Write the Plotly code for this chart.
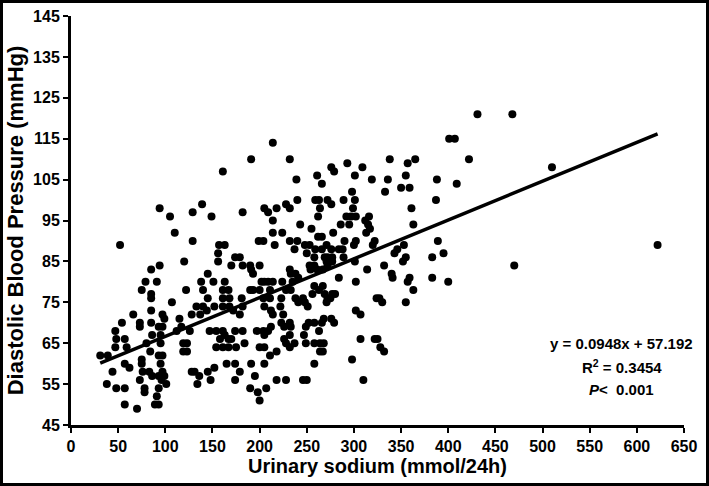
import plotly.graph_objects as go

# urinary sodium (mmol/24h) and diastolic BP (mmHg), grouped by area
na_a = [31, 39, 38, 44, 48, 57, 57, 70, 52, 54, 47, 48, 47, 57, 59, 57, 62, 66, 73, 73]
bp_a = [62, 62, 55, 58, 54, 54, 50, 49, 89, 70, 68, 66, 64, 66, 64, 60, 59, 72, 70, 69]
na_b = [75, 79, 85, 94, 91, 85, 85, 85, 85, 86, 80, 84, 75, 75, 76, 73, 78, 78, 83, 86]
bp_b = [78, 80, 83, 84, 80, 77, 76, 73, 70, 67, 65, 63, 61, 60, 58, 56, 54, 53, 58, 57]
na_c = [91, 89, 93, 93, 93, 96, 99, 101, 97, 95, 93, 95, 93, 97, 99, 97, 97, 95, 107, 94]
bp_c = [52, 50, 50, 54, 57, 56, 57, 55, 58, 60, 62, 67, 69, 72, 71, 69, 62, 65, 75, 98]
na_d = [105, 110, 129, 139, 149, 129, 120, 122, 115, 112, 117, 119, 123, 119, 123, 128, 131, 136, 134]
bp_d = [96, 92, 97, 99, 96, 90, 85, 78, 71, 68, 69, 65, 65, 63, 63, 58, 58, 57, 55]
na_e = [145, 148, 152, 126, 128, 133, 137, 140, 144, 145, 140, 138, 145, 151, 163, 156, 156, 157, 163, 161]
bp_e = [58, 56, 59, 68, 72, 74, 72, 74, 73, 76, 78, 80, 82, 80, 80, 85, 87, 89, 89, 78]
na_f = [161, 167, 168, 172, 168, 161, 152, 147, 154, 161, 158, 163, 167, 170, 167, 161, 154, 174, 175, 165]
bp_f = [76, 78, 76, 73, 74, 74, 74, 68, 68, 68, 66, 67, 66, 66, 64, 64, 64, 68, 64, 60]
na_g = [174, 179, 174, 170, 179, 174, 182, 182, 181, 182, 179, 182, 184, 190, 191, 193, 190, 193, 200, 199]
bp_g = [60, 58, 56, 84, 86, 86, 84, 97, 76, 74, 72, 68, 65, 84, 83, 82, 78, 78, 84, 90]
na_h = [204, 205, 209, 218, 214, 214, 216, 202, 205, 209, 214, 200, 211, 204, 211, 205, 212, 214, 212, 197]
bp_h = [90, 98, 97, 98, 95, 92, 89, 80, 80, 80, 80, 78, 78, 76, 76, 74, 73, 72, 69, 68]
na_i = [204, 209, 205, 200, 205, 211, 191, 205, 195, 190, 198, 200, 207, 218, 218, 161, 191, 214]
bp_i = [68, 68, 67, 64, 64, 62, 60, 60, 57, 54, 53, 51, 54, 56, 63, 107, 110, 114]
na_j = [232, 233, 238, 241, 250, 258, 258, 235, 233, 238, 241, 246, 248, 251, 256, 258, 224, 223, 228, 222]
bp_j = [83, 82, 82, 81, 87, 86, 84, 80, 78, 76, 75, 76, 75, 74, 77, 79, 80, 76, 78, 74]
na_k = [225, 232, 233, 226, 223, 232, 226, 237, 228, 232, 249, 252, 258, 247, 249, 258, 258, 246, 228]
bp_k = [72, 70, 69, 69, 70, 67, 66, 65, 65, 64, 69, 70, 70, 67, 65, 65, 60, 56, 56]
na_l = [284, 302, 314, 332, 340, 341, 346, 355, 359, 357, 363, 355, 383, 395, 383, 324, 327, 330, 302, 307]
bp_l = [81, 80, 83, 84, 82, 81, 88, 86, 81, 80, 78, 75, 86, 87, 81, 76, 76, 75, 73, 72]
na_m = [307, 322, 325, 328, 332, 298, 310, 280, 275, 276, 279, 268, 266, 263, 268, 264, 250, 271]
bp_m = [66, 66, 66, 64, 63, 61, 56, 77, 76, 71, 70, 71, 70, 68, 65, 65, 56, 75]
na_n = [269, 277, 267, 272, 267, 269, 272, 277, 263, 264, 267]
bp_n = [86, 85, 83, 84, 79, 77, 76, 77, 78, 63, 63]
na_o = [261, 266, 276, 279, 293, 301, 309, 319, 338, 336, 333, 357, 365, 355, 350, 359, 361, 363, 388, 387]
bp_o = [106, 104, 108, 107, 109, 106, 108, 105, 110, 105, 102, 109, 110, 106, 103, 103, 98, 94, 105, 100]
na_p = [322, 312, 315, 317, 313, 316, 302, 290, 284, 278, 286, 292, 297, 302, 299, 301, 298, 289, 276, 272]
bp_p = [90, 95, 94, 93, 92, 96, 90, 90, 88, 92, 94, 96, 96, 96, 98, 100, 102, 100, 99, 100]
na_q = [264, 259, 263, 266, 276, 271, 266, 259, 253, 272, 277, 289, 301, 253, 254, 261, 271, 275]
bp_q = [98, 100, 100, 91, 88, 89, 88, 88, 89, 86, 86, 86, 85, 84, 83, 83, 85, 85]
na_r = [232, 239, 224, 228, 232, 240, 232, 240, 243, 255, 248, 237]
bp_r = [110, 105, 92, 99, 98, 100, 90, 90, 94, 93, 89, 88]
na_s = [431, 468, 401, 407, 422, 510, 409, 389, 400, 470, 622]
bp_s = [121, 121, 115, 115, 110, 108, 104, 90, 80, 84, 89]
na_t = [295, 320, 343, 353, 352, 288, 300, 262, 262]
bp_t = [94, 89, 87, 89, 85, 88, 89, 91, 96]

na_groups = [na_a, na_b, na_c, na_d, na_e, na_f, na_g, na_h, na_i, na_j,
             na_k, na_l, na_m, na_n, na_o, na_p, na_q, na_r, na_s, na_t]
bp_groups = [bp_a, bp_b, bp_c, bp_d, bp_e, bp_f, bp_g, bp_h, bp_i, bp_j,
             bp_k, bp_l, bp_m, bp_n, bp_o, bp_p, bp_q, bp_r, bp_s, bp_t]

sodium, dbp = [], []
for xs, ys in zip(na_groups, bp_groups):
    assert len(xs) == len(ys), (xs, ys)
    sodium += xs
    dbp += ys

# regression line as given on the chart
slope, intercept = 0.0948, 57.192
x_fit = [min(sodium), max(sodium)]
y_fit = [slope * v + intercept for v in x_fit]

y_ticks = list(range(45, 146, 10))
x_ticks = list(range(0, 651, 50))

fig = go.Figure()
fig.add_trace(go.Scatter(
    x=sodium, y=dbp, mode='markers',
    marker=dict(color='black', size=8, line=dict(width=0)),
    showlegend=False, hoverinfo='x+y'
))
fig.add_trace(go.Scatter(
    x=x_fit, y=y_fit, mode='lines',
    line=dict(color='black', width=3.5),
    showlegend=False
))

narrow = "Liberation Sans Narrow, Arial Narrow, Liberation Sans, Arial, sans-serif"
plain = "Liberation Sans, Arial, sans-serif"

fig.update_layout(
    width=709, height=486,
    margin=dict(l=71, r=25, t=16, b=61),
    paper_bgcolor='white', plot_bgcolor='white',
    font=dict(family=plain, color='black'),
    xaxis=dict(
        range=[0, 650], tickvals=x_ticks, showgrid=False, zeroline=False,
        showline=True, linecolor='black', linewidth=3, automargin=False,
        ticks='outside', ticklen=5, tickwidth=2, tickcolor='black',
        tickfont=dict(family=narrow, size=16, weight='bold'),
        title=dict(text='Urinary sodium (mmol/24h)', standoff=4,
                   font=dict(family=plain, size=20, weight='bold')),
    ),
    yaxis=dict(
        range=[45, 145], tickvals=y_ticks, showgrid=False, zeroline=False,
        showline=True, linecolor='black', linewidth=3, automargin=False,
        ticks='outside', ticklen=5, tickwidth=2, tickcolor='black',
        tickfont=dict(family=narrow, size=16, weight='bold'),
        title=dict(text='Diastolic Blood Pressure (mmHg)', standoff=4,
                   font=dict(family=plain, size=22, weight='bold')),
    ),
)

stats = ['y = 0.0948x + 57.192', 'R<sup>2</sup> = 0.3454', '<i>P</i>&lt;  0.001']
stat_y = [65, 59.4, 53.8]
for txt, yy in zip(stats, stat_y):
    fig.add_annotation(x=584, y=yy, text=txt, showarrow=False,
                       xanchor='center', yanchor='middle',
                       font=dict(family=plain, size=15, weight='bold', color='black'))

# frame round the whole picture
fig.add_shape(type='rect', xref='paper', yref='paper',
              x0=-69.5 / 613, x1=636.5 / 613, y0=-59.5 / 409, y1=423.5 / 409,
              line=dict(color='black', width=3), layer='above')

# drop the default page margin so the figure sits at the window's corner
fig.write_html("out.html", config={'displayModeBar': False},
               post_script="document.body.style.margin='0';")
